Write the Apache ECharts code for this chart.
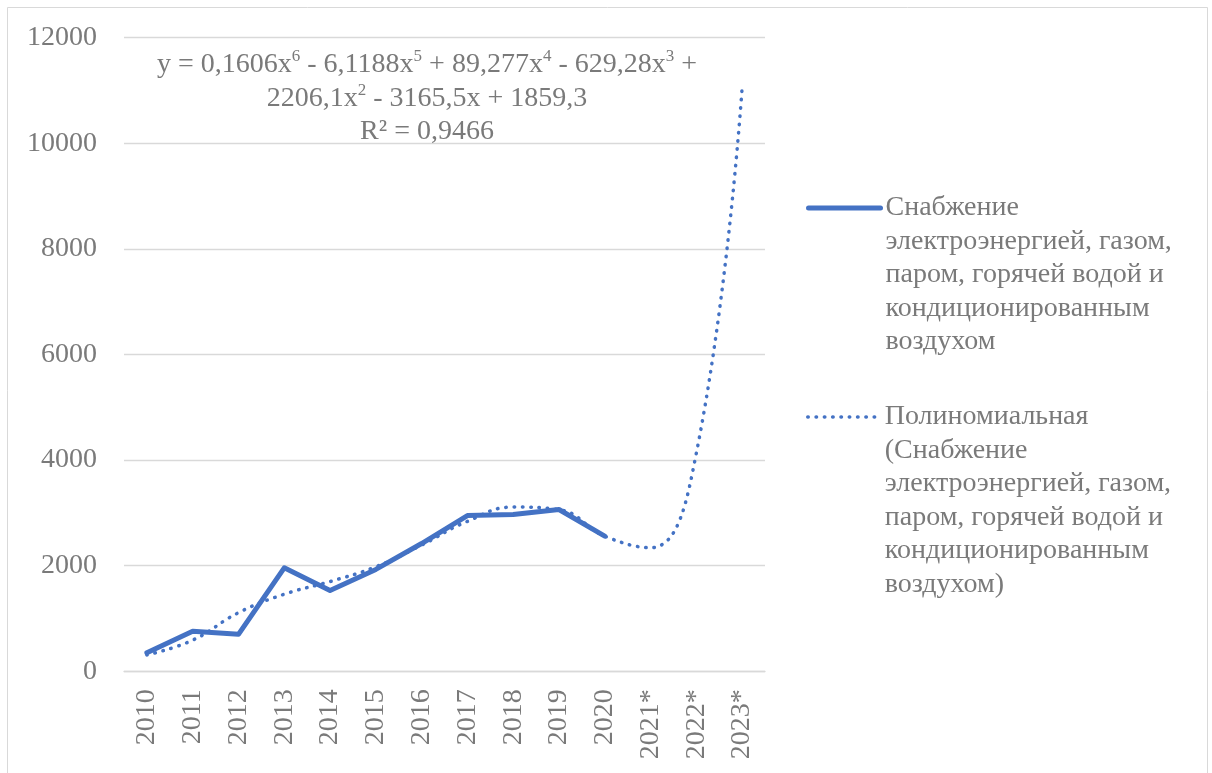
<!DOCTYPE html>
<html>
<head>
<meta charset="utf-8">
<script src="https://cdn.jsdelivr.net/npm/echarts@6/dist/echarts.min.js"></script>
<style>
html,body{margin:0;padding:0;background:#fff;}
#chart{width:1212px;height:773px;}
</style>
</head>
<body>
<div id="chart"></div>
<script>
const categories = ['2010','2011','2012','2013','2014','2015','2016','2017','2018','2019','2020','2021*','2022*','2023*'];
const supplyValues = [350, 760, 700, 1960, 1530, 1930, 2420, 2950, 2970, 3065, 2560];
const trendValues = [310, 590, 1110, 1460, 1700, 1980, 2390, 2840, 3110, 3060, 2560, 2340, 4130, 11050];
const yTicks = {min: 0, max: 12000, interval: 2000};
const seriesName = 'Снабжение электроэнергией, газом, паром, горячей водой и кондиционированным воздухом';
const trendName = 'Полиномиальная (Снабжение электроэнергией, газом, паром, горячей водой и кондиционированным воздухом)';
const legendLines = {};
legendLines[seriesName] = ['Снабжение','электроэнергией, газом,','паром, горячей водой и','кондиционированным','воздухом'];
legendLines[trendName] = ['Полиномиальная','(Снабжение','электроэнергией, газом,','паром, горячей водой и','кондиционированным','воздухом)'];
const equationLines = [
  '{n|y = 0,1606x}{s|6}{n| - 6,1188x}{s|5}{n| + 89,277x}{s|4}{n| - 629,28x}{s|3}{n| +}',
  '{n|2206,1x}{s|2}{n| - 3165,5x + 1859,3}',
  '{n|R² = 0,9466}'
];

const FONT = '"Liberation Serif", "Times New Roman", serif';
const GRAY = '#7a7a7a';
const BLUE = '#4472C4';
const LH = 33.5;

const chart = echarts.init(document.getElementById('chart'), null, {renderer: 'canvas'});

function legendFor(name, iconY, lineStyle) {
  const n = legendLines[name].length;
  const total = 2 * n - 1;
  return {
    orient: 'vertical',
    left: 806,
    top: iconY - total * LH / 2,
    padding: 0,
    itemWidth: 72,
    itemHeight: 14,
    itemGap: 0,
    data: [name],
    formatter: function (nm) {
      const blanks = [];
      for (let i = 0; i < legendLines[nm].length - 1; i++) blanks.push(' ');
      return blanks.concat(legendLines[nm]).join('\n');
    },
    textStyle: {fontFamily: FONT, fontSize: 28, color: GRAY, lineHeight: LH},
    itemStyle: {opacity: 0},
    lineStyle: lineStyle,
    selectedMode: false
  };
}

const option = {
  animation: false,
  backgroundColor: '#ffffff',
  grid: {left: 124, right: 447, top: 37.7, bottom: 101.7, containLabel: false},
  xAxis: {
    type: 'category',
    data: categories,
    boundaryGap: true,
    axisLine: {show: true, lineStyle: {color: '#d9d9d9', width: 1.3}},
    axisTick: {show: false},
    axisLabel: {interval: 0, rotate: 90, margin: 18, fontFamily: FONT, fontSize: 28, color: GRAY},
    splitLine: {show: false}
  },
  yAxis: {
    type: 'value',
    min: yTicks.min, max: yTicks.max, interval: yTicks.interval,
    axisLine: {show: false},
    axisTick: {show: false},
    axisLabel: {margin: 27, fontFamily: FONT, fontSize: 28, color: GRAY, formatter: function (v) { return String(v); }},
    splitLine: {show: true, lineStyle: {color: '#d9d9d9', width: 1.3}}
  },
  legend: [
    legendFor(seriesName, 208, {width: 5}),
    legendFor(trendName, 417, {width: 3.5, type: [0.5, 7.8], cap: 'round'})
  ],
  series: [
    {
      name: seriesName,
      type: 'line',
      data: supplyValues,
      symbol: 'none',
      showSymbol: false,
      lineStyle: {color: BLUE, width: 5, cap: 'round', join: 'round'},
      itemStyle: {color: BLUE},
      z: 2
    },
    {
      name: trendName,
      type: 'line',
      data: trendValues,
      smooth: 0.45,
      symbol: 'none',
      showSymbol: false,
      lineStyle: {color: BLUE, width: 3.5, type: [0.5, 7.8], cap: 'round'},
      itemStyle: {color: BLUE},
      z: 3
    }
  ],
  graphic: [
    {type: 'rect', shape: {x: 7.5, y: 7.5, width: 1200, height: 790}, style: {fill: 'none', stroke: '#d9d9d9', lineWidth: 1}, silent: true},
    ...equationLines.map(function (t, i) {
      return {
        type: 'text', x: 427, y: 65 + i * 33.5, z: 10,
        style: {
          text: t, align: 'center', verticalAlign: 'middle', fill: GRAY,
          rich: {
            n: {fontFamily: FONT, fontSize: 28, fill: GRAY, color: GRAY, lineHeight: 33.5},
            s: {fontFamily: FONT, fontSize: 17, fill: GRAY, color: GRAY, lineHeight: 22, verticalAlign: 'top'}
          }
        }
      };
    })
  ]
};
chart.setOption(option);
</script>
</body>
</html>
